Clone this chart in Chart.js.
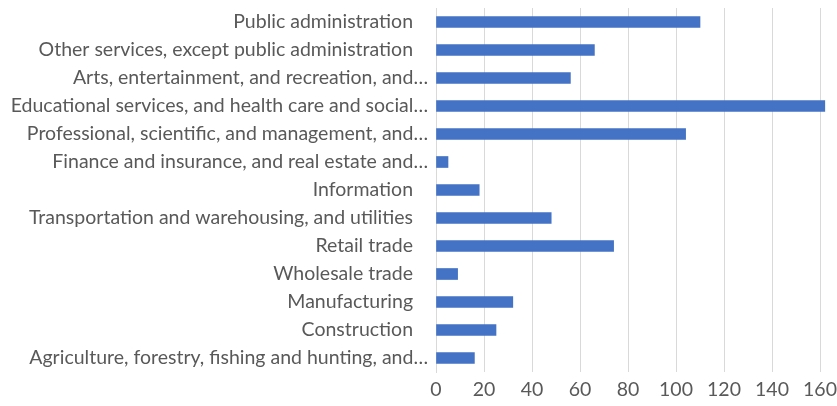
<!DOCTYPE html>
<html>
<head>
<meta charset="utf-8">
<script src="https://cdn.jsdelivr.net/npm/chart.js@4.4.1/dist/chart.umd.min.js"></script>
<style>
  html, body { margin: 0; padding: 0; background: #fff; }
</style>
</head>
<body>
<canvas id="industryChart" width="837" height="406"></canvas>
<script>
// Industry categories, top to bottom
const industries = [
  'Public administration',
  'Other services, except public administration',
  'Arts, entertainment, and recreation, and…',
  'Educational services, and health care and social…',
  'Professional, scientific, and management, and…',
  'Finance and insurance, and real estate and…',
  'Information',
  'Transportation and warehousing, and utilities',
  'Retail trade',
  'Wholesale trade',
  'Manufacturing',
  'Construction',
  'Agriculture, forestry, fishing and hunting, and…'
];
const counts = [110, 66, 56, 162, 104, 5, 18, 48, 74, 9, 32, 25, 16];
const xTicks = [0, 20, 40, 60, 80, 100, 120, 140, 160];

const textColor = '#595959';
const gridColor = '#d9d9d9';
const labelFont = { family: 'Lato', size: 19.5 };

new Chart(document.getElementById('industryChart').getContext('2d'), {
  type: 'bar',
  data: {
    labels: industries,
    datasets: [{
      data: counts,
      backgroundColor: '#4472C4',
      barThickness: 11,
    }]
  },
  options: {
    indexAxis: 'y',
    responsive: false,
    animation: false,
    layout: { padding: { top: 8, right: 5, left: 0, bottom: 0 } },
    plugins: {
      legend: { display: false },
      tooltip: { enabled: false }
    },
    scales: {
      x: {
        min: 0,
        max: 165,
        afterBuildTicks: (scale) => {
          scale.ticks = xTicks.map(v => ({ value: v }));
        },
        afterFit: (scale) => {
          scale.height = 34;
          scale.paddingLeft = 0;
          scale.paddingRight = 0;
        },
        grid: { color: gridColor, drawTicks: false },
        border: { display: false },
        ticks: { color: textColor, font: labelFont, padding: 6 }
      },
      y: {
        afterFit: (scale) => {
          scale.width = 436;
          scale.paddingTop = 0;
          scale.paddingBottom = 0;
        },
        grid: { display: false, drawTicks: false },
        border: { color: gridColor },
        ticks: {
          color: textColor,
          font: labelFont,
          padding: 8,
          autoSkip: false,
          // full-length names sit a little left of the truncated ones
          callback: function (value) {
            const name = this.getLabelForValue(value);
            return name.endsWith('…') ? name : name + '   ';
          }
        }
      }
    }
  }
});
</script>
</body>
</html>
